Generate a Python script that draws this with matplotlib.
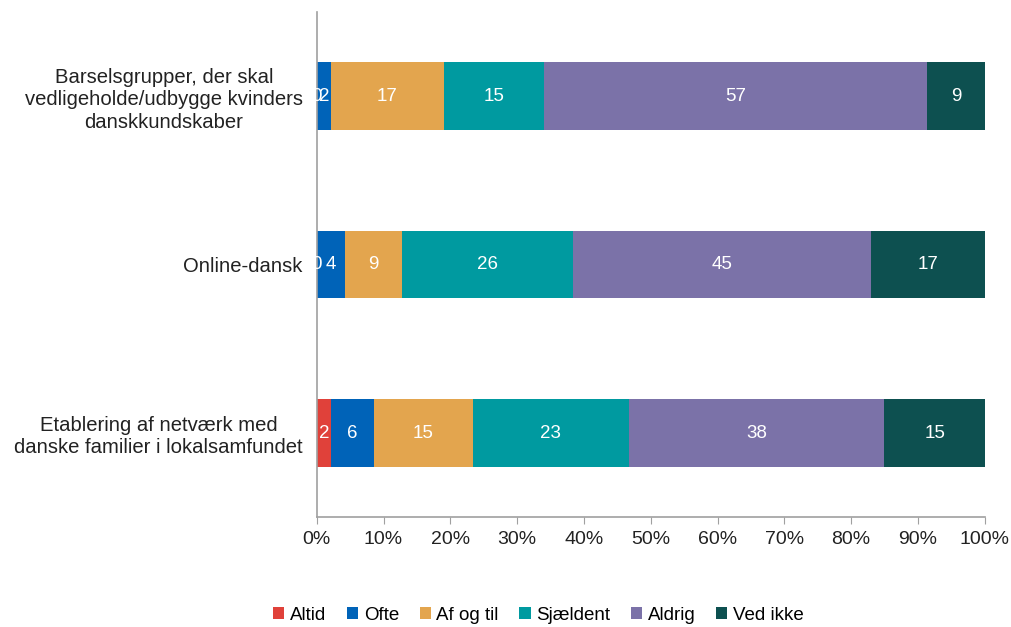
import matplotlib
matplotlib.use("Agg")
import matplotlib.pyplot as plt
import numpy as np

plt.rcParams['font.family'] = ['Liberation Sans', 'DejaVu Sans']

categories = [
    "Barselsgrupper, der skal\nvedligeholde/udbygge kvinders\ndanskkundskaber",
    "Online-dansk",
    "Etablering af netværk med\ndanske familier i lokalsamfundet",
]
series_names = ["Altid", "Ofte", "Af og til", "Sjældent", "Aldrig", "Ved ikke"]
altid = [0.0, 0.0, 2.1]
ofte = [2.1, 4.2, 6.4]
af_og_til = [16.9, 8.6, 14.9]
sjaeldent = [15.0, 25.6, 23.3]
aldrig = [57.4, 44.6, 38.3]
ved_ikke = [8.6, 17.0, 15.0]
colors = ["#E0413A", "#0063B8", "#E3A54E", "#009AA0", "#7B72A8", "#0D5050"]
xticks = [0, 10, 20, 30, 40, 50, 60, 70, 80, 90, 100]

series = [altid, ofte, af_og_til, sjaeldent, aldrig, ved_ikke]

fig = plt.figure(figsize=(10.12, 6.27), dpi=100)
ax = fig.add_axes([0.313, 0.175, 0.66, 0.806])

ypos = np.array([2, 1, 0])
left = np.zeros(3)
for name, vals, c in zip(series_names, series, colors):
    vals = np.array(vals)
    ax.barh(ypos, vals, left=left, height=0.4, color=c, label=name, linewidth=0)
    for y, l, v in zip(ypos, left, vals):
        ax.text(l + v / 2, y, "%.0f" % v, ha="center", va="center",
                color="white", fontsize=13.5)
    left = left + vals

ax.set_xlim(0, 100)
ax.set_ylim(-0.5, 2.5)
ax.set_xticks(xticks)
ax.set_xticklabels(["%d%%" % t for t in xticks], fontsize=14, color="#222222")
ax.set_yticks(ypos)
ax.set_yticklabels(categories, fontsize=14.6, color="#222222",
                   multialignment="center", linespacing=1.22)
ax.tick_params(axis="y", length=0, pad=10)
ax.tick_params(axis="x", length=5, color="#A0A0A0", pad=5)
for s in ["top", "right"]:
    ax.spines[s].set_visible(False)
for s in ["left", "bottom"]:
    ax.spines[s].set_color("#A0A0A0")
    ax.spines[s].set_linewidth(1.2)

handles, labels = ax.get_legend_handles_labels()
fig.legend(handles, labels, loc="center", bbox_to_anchor=(0.532, 0.019),
           ncol=6, frameon=False, fontsize=13.5, handlelength=0.6,
           handleheight=0.6, handletextpad=0.3, columnspacing=1.1)

fig.savefig("out.png", dpi=100)
